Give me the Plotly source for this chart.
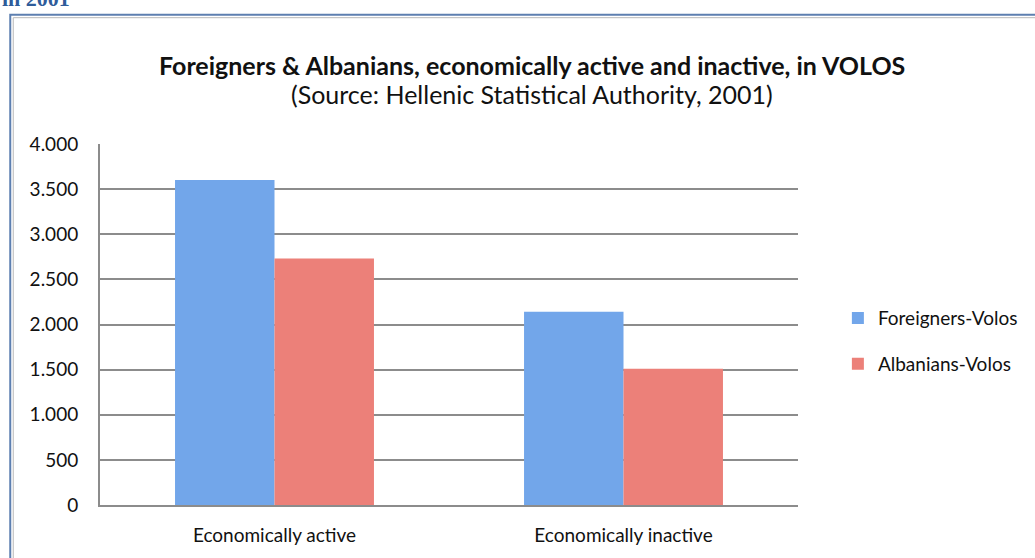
import plotly.graph_objects as go

categories = ["Economically active", "Economically inactive"]
foreigners = [3600, 2140]
albanians = [2730, 1510]
series_names = ["Foreigners-Volos", "Albanians-Volos"]
y_ticks = [0, 500, 1000, 1500, 2000, 2500, 3000, 3500, 4000]

W, H = 1035, 558
ml, mr, mt, mb = 100, 235, 144, 51

fig = go.Figure()
fig.add_trace(go.Bar(x=categories, y=foreigners, name=series_names[0],
                     marker=dict(color="#72a6ea", line=dict(width=0)),
                     legendgroup="a"))
fig.add_trace(go.Bar(x=categories, y=albanians, name=series_names[1],
                     marker=dict(color="#ec8079", line=dict(width=0)),
                     legendgroup="b"))

font_family = "Lato, 'Open Sans', sans-serif"

px = lambda v: (v - ml) / (W - ml - mr)
py = lambda v: (H - mb - v) / (H - mt - mb)

fig.update_layout(
    width=W, height=H,
    margin=dict(l=ml, r=mr, t=mt, b=mb, pad=0),
    paper_bgcolor="white", plot_bgcolor="white",
    separators=",.",
    barmode="group", bargap=0.43, bargroupgap=0,
    font=dict(family=font_family, color="#111111", size=19),
    showlegend=True,
    legend=dict(x=px(840), y=py(300), xref="paper", yref="paper",
                xanchor="left", yanchor="top",
                font=dict(size=19, color="#111111"), tracegroupgap=18,
                itemwidth=30, bgcolor="rgba(0,0,0,0)"),
    xaxis=dict(showgrid=False, showline=True, linecolor="#8c8c8c", linewidth=2,
               ticks="", tickfont=dict(size=19), ticklabelstandoff=12),
    yaxis=dict(range=[0, 4000], tickvals=y_ticks, tickformat=",d",
               showgrid=True, gridcolor="#8c8c8c", gridwidth=2,
               showline=True, linecolor="#8c8c8c", linewidth=2,
               zeroline=False, ticks="", ticklabelstandoff=16,
               tickfont=dict(size=19, color="#111111")),
)

title_x = px(533)
fig.add_annotation(text="<b>Foreigners & Albanians, economically active and inactive, in VOLOS</b>",
                   x=title_x, y=py(65), xref="paper", yref="paper",
                   showarrow=False, font=dict(size=25, color="#111111"), xanchor="center", yanchor="middle")
fig.add_annotation(text="(Source: Hellenic Statistical Authority, 2001)",
                   x=title_x, y=py(94), xref="paper", yref="paper",
                   showarrow=False, font=dict(size=25, color="#111111"), xanchor="center", yanchor="middle")
fig.add_annotation(text="<b>in 2001</b>",
                   x=px(0), y=py(-2), xref="paper", yref="paper",
                   showarrow=False, font=dict(size=22, color="#2f5c9a", family="'Liberation Serif', serif"),
                   xanchor="left", yanchor="middle")

# outer frame
fig.add_shape(type="rect", xref="paper", yref="paper",
              x0=px(10), x1=px(1045), y0=py(14), y1=py(570),
              line=dict(color="#5d7fb0", width=2), layer="below")
fig.add_shape(type="rect", xref="paper", yref="paper",
              x0=px(13), x1=px(1045), y0=py(17), y1=py(570),
              line=dict(color="#b8b8b8", width=1), layer="below")

fig.write_html("out.html", config={"displayModeBar": False},
               post_script="document.body.style.margin='0px';")
